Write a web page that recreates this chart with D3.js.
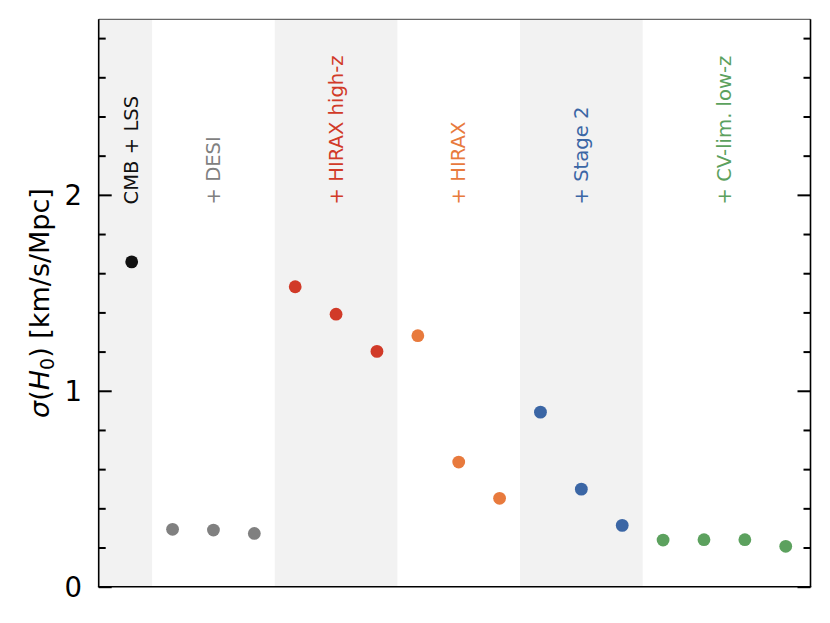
<!DOCTYPE html>
<html>
<head>
<meta charset="utf-8">
<script src="https://cdn.jsdelivr.net/npm/d3@7"></script>
<style>
  html, body { margin: 0; padding: 0; background: #ffffff; }
  svg { display: block; font-family: "DejaVu Sans", sans-serif; }
</style>
</head>
<body>
<svg id="chart" width="830" height="623"></svg>
<script>
// ---- data ----
const groupNames = ["CMB + LSS", "+ DESI", "+ HIRAX high-z", "+ HIRAX", "+ Stage 2", "+ CV-lim. low-z"];
const groupColors = ["#111111", "#808080", "#d13a28", "#e87a3d", "#3b66a5", "#5ca15e"];
const groupShaded = [true, false, true, false, true, false];
const cmbValues = [1.658];
const desiValues = [0.293, 0.289, 0.272];
const hiraxHighZValues = [1.531, 1.391, 1.201];
const hiraxValues = [1.281, 0.636, 0.451];
const stage2Values = [0.891, 0.498, 0.313];
const cvLimValues = [0.238, 0.240, 0.240, 0.206];
const yMajorTicks = [0, 1, 2];
const yMinorTicks = [0.2, 0.4, 0.6, 0.8, 1.2, 1.4, 1.6, 1.8, 2.2, 2.4, 2.6, 2.8];

const groupValues = [cmbValues, desiValues, hiraxHighZValues, hiraxValues, stage2Values, cvLimValues];

// build flat points with sequential index
let idx = 0;
const groups = groupValues.map((vals, g) => {
  const pts = vals.map(v => ({ i: idx++, v: v, g: g }));
  return { name: groupNames[g], color: groupColors[g], shaded: groupShaded[g], pts: pts,
           first: pts[0].i, last: pts[pts.length - 1].i };
});
const points = groups.flatMap(g => g.pts);

// ---- layout ----
const svg = d3.select("#chart");
const L = 98.7, R = 810.5, T = 19.3, B = 586.7;
const x = d3.scaleLinear().domain([-0.807, 16.606]).range([L, R]);
const y = d3.scaleLinear().domain([0, 2.896]).range([B, T]);
const nPts = points.length;

// shaded bands (outer groups extend to the axis edges)
const bandLo = d => d.first === 0 ? L : x(d.first - 0.5);
const bandHi = d => d.last === nPts - 1 ? R : x(d.last + 0.5);
svg.append("g").selectAll("rect")
  .data(groups.filter(g => g.shaded))
  .join("rect")
  .attr("x", d => bandLo(d))
  .attr("width", d => bandHi(d) - bandLo(d))
  .attr("y", T)
  .attr("height", B - T)
  .attr("fill", "#f2f2f2");

// group labels
svg.append("g").selectAll("text")
  .data(groups)
  .join("text")
  .attr("transform", d => `translate(${x((d.first + d.last) / 2)},204.5) rotate(-90)`)
  .attr("text-anchor", "start")
  .attr("dominant-baseline", "central")
  .attr("font-size", 19.6)
  .attr("fill", d => d.color)
  .text(d => d.name);

// points
svg.append("g").selectAll("circle")
  .data(points)
  .join("circle")
  .attr("cx", d => x(d.i))
  .attr("cy", d => y(d.v))
  .attr("r", 6.4)
  .attr("fill", d => groupColors[d.g]);

// y axes (ticks inward, both sides)
const leftMajor = d3.axisRight(y).tickValues(yMajorTicks).tickSize(13).tickFormat("");
const leftMinor = d3.axisRight(y).tickValues(yMinorTicks).tickSize(7).tickFormat("");
const rightMajor = d3.axisLeft(y).tickValues(yMajorTicks).tickSize(13).tickFormat("");
const rightMinor = d3.axisLeft(y).tickValues(yMinorTicks).tickSize(7).tickFormat("");
[[leftMajor, L], [leftMinor, L], [rightMajor, R], [rightMinor, R]].forEach(([ax, pos]) => {
  const g = svg.append("g").attr("transform", `translate(${pos},0)`).call(ax);
  g.select(".domain").remove();
  g.selectAll(".tick line").attr("stroke", "#000").attr("stroke-width", 2);
});

// tick labels
svg.append("g").selectAll("text")
  .data(yMajorTicks)
  .join("text")
  .attr("x", 82)
  .attr("y", d => y(d))
  .attr("text-anchor", "end")
  .attr("dominant-baseline", "central")
  .attr("font-size", 27.5)
  .attr("fill", "#000")
  .text(d => d);

// frame
svg.append("line").attr("x1", L).attr("x2", R).attr("y1", T).attr("y2", T)
  .attr("stroke", "#444").attr("stroke-width", 1);
svg.append("line").attr("x1", L).attr("x2", L).attr("y1", T).attr("y2", B)
  .attr("stroke", "#000").attr("stroke-width", 1.6);
svg.append("line").attr("x1", R).attr("x2", R).attr("y1", T).attr("y2", B)
  .attr("stroke", "#000").attr("stroke-width", 1.6);
svg.append("line").attr("x1", L - 0.8).attr("x2", R + 0.8).attr("y1", B).attr("y2", B)
  .attr("stroke", "#000").attr("stroke-width", 1.6);

// y label
const yl = svg.append("text")
  .attr("transform", `translate(49,${(T + B) / 2}) rotate(-90)`)
  .attr("text-anchor", "middle")
  .attr("font-size", 27)
  .attr("fill", "#000");
yl.append("tspan").attr("font-style", "italic").text("σ");
yl.append("tspan").text("(");
yl.append("tspan").attr("font-style", "italic").text("H");
yl.append("tspan").attr("font-size", 19).attr("dy", 5).text("0");
yl.append("tspan").attr("dy", -5).text(") [km/s/Mpc]");
</script>
</body>
</html>
